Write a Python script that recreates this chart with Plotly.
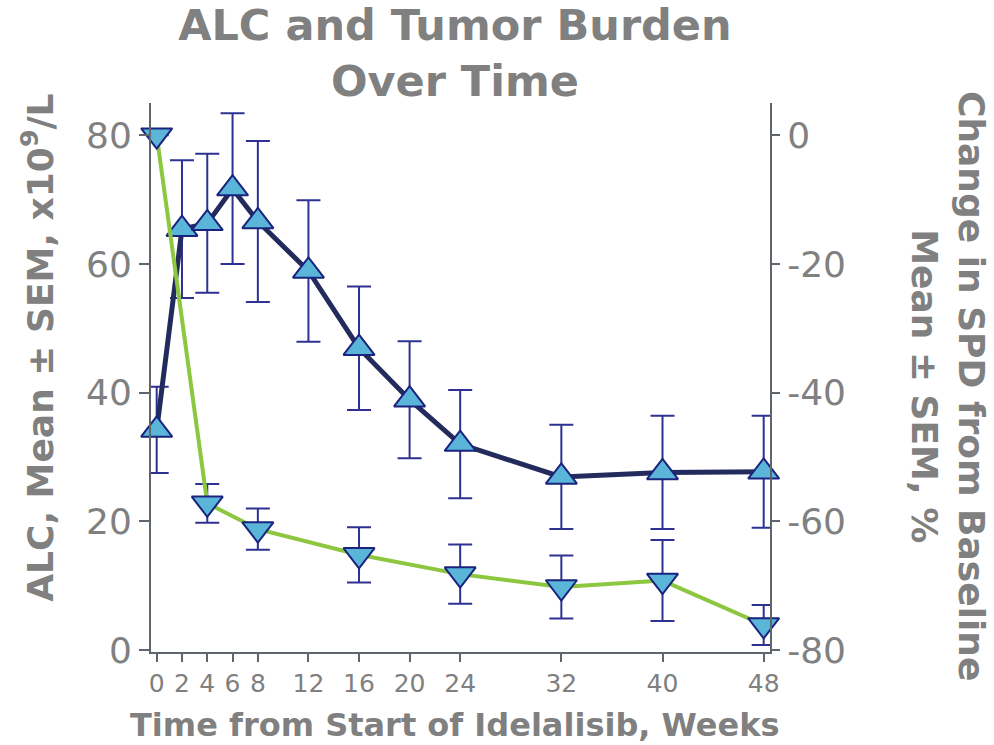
import plotly.graph_objects as go

# Absolute lymphocyte count (ALC), x10^9/L, mean and SEM by week
alc_weeks = [0, 2, 4, 6, 8, 12, 16, 20, 24, 32, 40, 48]
alc_mean = [34.2, 65.4, 66.3, 71.7, 66.6, 58.9, 46.9, 38.9, 32.0, 26.9, 27.6, 27.7]
alc_sem = [6.7, 10.7, 10.8, 11.7, 12.5, 11.0, 9.6, 9.1, 8.4, 8.1, 8.8, 8.7]

# Change in SPD from baseline, %, mean and SEM by week
spd_weeks = [0, 4, 8, 16, 24, 32, 40, 48]
spd_mean = [0, -57.2, -61.2, -65.2, -68.2, -70.2, -69.2, -76.1]
spd_sem = [0, 3.0, 3.2, 4.3, 4.6, 4.9, 6.3, 3.1]

x_ticks = [0, 2, 4, 6, 8, 12, 16, 20, 24, 32, 40, 48]
left_ticks = [0, 20, 40, 60, 80]
right_ticks = [0, -20, -40, -60, -80]
right_tick_text = ["0", "-20", "-40", "-60", "-80"]

GRAY = "#808080"
AXIS = "#5f656c"
NAVY = "#232b5c"
ERR = "#2e3192"
FILL = "#5bb5d8"
GREEN = "#8dc63f"
FONT = "DejaVu Sans, Verdana, sans-serif"

fig = go.Figure()

fig.add_trace(go.Scatter(
    x=alc_weeks, y=alc_mean, yaxis="y", mode="lines+markers",
    line=dict(color=NAVY, width=5),
    marker=dict(symbol="triangle-up", size=27, color=FILL,
                line=dict(color="#1a237e", width=2)),
    error_y=dict(type="data", array=alc_sem, visible=True,
                 color=ERR, thickness=2, width=12),
    cliponaxis=False, showlegend=False, name="ALC",
))

fig.add_trace(go.Scatter(
    x=spd_weeks, y=spd_mean, yaxis="y2", mode="lines+markers",
    line=dict(color=GREEN, width=4),
    marker=dict(symbol="triangle-down", size=27, color=FILL,
                line=dict(color="#1a237e", width=2)),
    error_y=dict(type="data", array=spd_sem, visible=True,
                 color=ERR, thickness=2, width=12),
    cliponaxis=False, showlegend=False, name="SPD",
))

axis_common = dict(
    showgrid=False, zeroline=False, showline=True,
    linecolor=AXIS, linewidth=2, ticks="outside", tickcolor=AXIS,
    tickwidth=2,
)

fig.update_layout(
    width=994, height=745,
    margin=dict(l=151, r=224, t=103, b=93),
    paper_bgcolor="white", plot_bgcolor="white",
    font=dict(family=FONT, color=GRAY),
    title=dict(
        text="<b>ALC and Tumor Burden<br>Over Time</b>",
        x=0.491, xref="paper", xanchor="center",
        y=1 - 40 / 745, yref="container", yanchor="middle",
        font=dict(size=43, color=GRAY, family=FONT),
    ),
    xaxis=dict(
        **axis_common, range=[-0.45, 48.5], tickvals=x_ticks,
        ticklen=8, tickfont=dict(size=25, color=GRAY),
    ),
    yaxis=dict(
        **axis_common, range=[-0.3, 85], tickvals=left_ticks,
        ticklen=10, tickfont=dict(size=36, color=GRAY),
    ),
    yaxis2=dict(
        **axis_common, range=[-80.3, 5], tickvals=right_ticks,
        ticktext=right_tick_text,
        ticklen=8, tickfont=dict(size=36, color=GRAY),
        overlaying="y", side="right",
    ),
)

fig.add_annotation(
    text="<b>Time from Start of Idelalisib, Weeks</b>",
    xref="paper", yref="paper", x=0.491, y=-0.133,
    xanchor="center", yanchor="middle", showarrow=False,
    font=dict(size=32, color=GRAY, family=FONT),
)
fig.add_annotation(
    text="<b>ALC, Mean ± SEM, x10<sup>9</sup>/L</b>",
    xref="paper", yref="paper", x=-0.1826, y=0.554,
    xanchor="center", yanchor="middle", textangle=-90, showarrow=False,
    font=dict(size=36, color=GRAY, family=FONT),
)
fig.add_annotation(
    text="<b>Change in SPD from Baseline<br>Mean ± SEM, %</b>",
    xref="paper", yref="paper", x=1.2876, y=0.4845,
    xanchor="center", yanchor="middle", textangle=90, showarrow=False,
    font=dict(size=36, color=GRAY, family=FONT),
)

fig.write_html("out.html")
